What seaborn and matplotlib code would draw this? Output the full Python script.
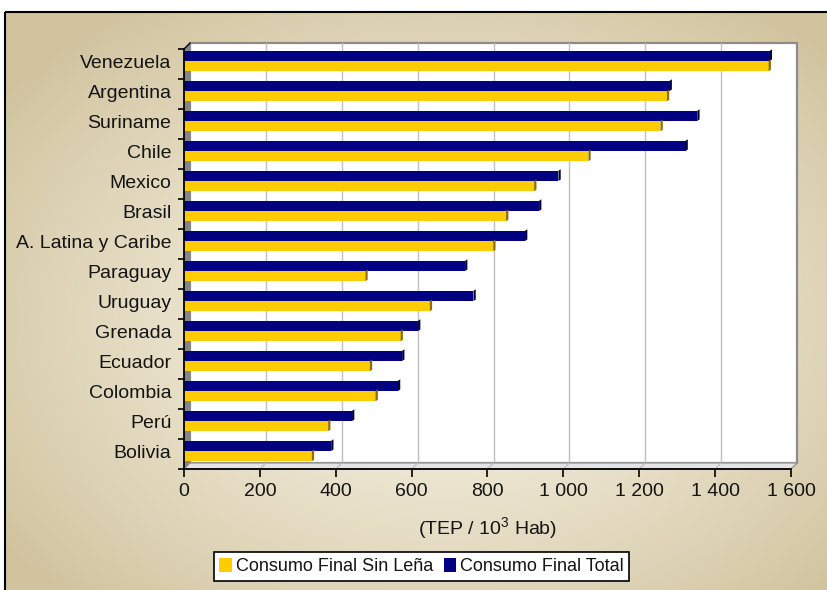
import numpy as np
import pandas as pd
import matplotlib
matplotlib.use("Agg")
import matplotlib.pyplot as plt
from matplotlib.patches import Rectangle, Polygon, Patch
import seaborn as sns

# Consumo final per cápita (TEP / 10^3 Hab)
paises = ["Venezuela", "Argentina", "Suriname", "Chile", "Mexico", "Brasil",
          "A. Latina y Caribe", "Paraguay", "Uruguay", "Grenada", "Ecuador",
          "Colombia", "Perú", "Bolivia"]
consumo_total = [1544, 1280, 1353, 1322, 987, 936, 899, 741, 763, 617, 575, 564, 443, 388]
consumo_sin_lena = [1541, 1273, 1256, 1066, 923, 849, 815, 478, 648, 571, 490, 505, 380, 337]
serie_total = "Consumo Final Total"
serie_sin_lena = "Consumo Final Sin Leña"
x_ticks = [0, 200, 400, 600, 800, 1000, 1200, 1400, 1600]
x_tick_labels = ["0", "200", "400", "600", "800", "1 000", "1 200", "1 400", "1 600"]

AZUL = "#000080"
AMARILLO = "#FFCC00"
TEXTO = "#141414"

sns.set_theme(style="white")
plt.rcParams["font.family"] = ["Liberation Sans", "DejaVu Sans"]
plt.rcParams["mathtext.fontset"] = "custom"
plt.rcParams["mathtext.rm"] = "Liberation Sans"
plt.rcParams["mathtext.it"] = "Liberation Sans:italic"

W, H = 828, 590
fig = plt.figure(figsize=(W / 100, H / 100), dpi=100)
fig.patch.set_facecolor("white")

# Fondo con degradado radial beige y marco
bg = fig.add_axes([0, 0, 1, 1], zorder=-10)
bg.set_xlim(0, W)
bg.set_ylim(H, 0)
bg.axis("off")
yy, xx = np.mgrid[0:H, 0:W]
r = np.sqrt(((xx - 440) / 540.0) ** 2 + ((yy - 320) / 390.0) ** 2)
r = np.clip(r, 0, 1) ** 1.3
c_centro = np.array([247, 243, 229]) / 255.0
c_borde = np.array([209, 195, 158]) / 255.0
img = c_centro + (c_borde - c_centro) * r[..., None]
bg.imshow(img, extent=[0, W, H, 0], aspect="auto", interpolation="bilinear")
bg.add_patch(Rectangle((0, 0), W, 12, facecolor="white", edgecolor="none"))
bg.add_patch(Rectangle((0, 0), 5, H, facecolor="white", edgecolor="none"))
bg.add_patch(Rectangle((5, 12), W + 10, H + 10, fill=False, edgecolor="black", lw=1.5))

# Área del gráfico
ax = fig.add_axes([184 / W, 1 - 469 / H, (791 - 184) / W, 420 / H])
ax.patch.set_alpha(0)

df = pd.DataFrame({
    "País": paises * 2,
    "Valor": consumo_total + consumo_sin_lena,
    "Serie": [serie_total] * len(paises) + [serie_sin_lena] * len(paises),
})

sns.barplot(data=df, y="País", x="Valor", hue="Serie",
            hue_order=[serie_total, serie_sin_lena],
            palette=[AZUL, AMARILLO], saturation=1, orient="h", width=0.68,
            linewidth=0, ax=ax, zorder=3)

n = len(paises)
dx, dy = 16, 0.2  # profundidad del efecto 3D
ax.set_xlim(0, 1600)
ax.set_ylim(n - 0.4, -0.4)

# Pared del fondo, suelo y pared izquierda
ax.add_patch(Rectangle((dx, -0.4 - dy), 1600, n, facecolor="white",
                       edgecolor="#8c8c8c", lw=1.6, clip_on=False, zorder=0))
for v in x_ticks[1:-1]:
    ax.plot([v + dx, v + dx], [-0.4 - dy, n - 0.4 - dy], color="#c0c0c0",
            lw=1, clip_on=False, zorder=1)
ax.add_patch(Polygon([(0, n - 0.4), (1600, n - 0.4), (1600 + dx, n - 0.4 - dy),
                      (dx, n - 0.4 - dy)], closed=True, facecolor="#e4e4e4",
                     edgecolor="#9a9a9a", lw=1, clip_on=False, zorder=1))
for v in x_ticks[1:-1]:
    ax.plot([v, v + dx], [n - 0.4, n - 0.4 - dy], color="#b8b8b8", lw=0.8,
            clip_on=False, zorder=1)
ax.add_patch(Polygon([(0, -0.4), (dx, -0.4 - dy), (dx, n - 0.4 - dy), (0, n - 0.4)],
                     closed=True, facecolor="#858585", edgecolor="none",
                     clip_on=False, zorder=2))

# Cara lateral de cada barra
sombras = {0: "#00003a", 1: "#8a6e00"}
for i, cont in enumerate(ax.containers):
    for p in cont:
        x1 = p.get_x() + p.get_width()
        y0 = p.get_y()
        h = p.get_height()
        ax.add_patch(Polygon([(x1, y0), (x1 + 6, y0 - 0.05), (x1 + 6, y0 + h - 0.05),
                              (x1, y0 + h)], closed=True, facecolor=sombras[i],
                             edgecolor="none", clip_on=False, zorder=3))

# Ejes
for s in ["top", "right"]:
    ax.spines[s].set_visible(False)
for s in ["left", "bottom"]:
    ax.spines[s].set_color("black")
    ax.spines[s].set_linewidth(1.3)
    ax.spines[s].set_zorder(4)
ax.plot([0, dx], [-0.4, -0.4 - dy], color="black", lw=1, clip_on=False, zorder=4)

ax.set_yticks(range(n))
ax.set_yticklabels(paises, fontsize=14, color=TEXTO)
ax.set_yticks(np.arange(n + 1) - 0.4, minor=True)
ax.tick_params(axis="y", which="major", length=0, pad=9)
ax.tick_params(axis="y", which="minor", left=True, length=4.5, width=1.2,
               color="black", direction="out")
ax.set_xticks(x_ticks)
ax.set_xticklabels(x_tick_labels, fontsize=14, color=TEXTO)
ax.tick_params(axis="x", which="major", bottom=True, length=6, width=1.2,
               color="black", direction="out", pad=4)
ax.set_ylabel("")
ax.set_xlabel(r"(TEP / 10$^3$ Hab)", fontsize=14, color=TEXTO, labelpad=11)

leg = ax.get_legend()
if leg is not None:
    leg.remove()

handles = [Patch(facecolor=AMARILLO, edgecolor="none"),
           Patch(facecolor=AZUL, edgecolor="none")]
lg = fig.legend(handles=handles, labels=[serie_sin_lena, serie_total],
                loc="center", bbox_to_anchor=((210 + 633) / 2 / W, 1 - 566.5 / H),
                ncol=2, fontsize=13, frameon=True, fancybox=False, framealpha=1,
                edgecolor="black", facecolor="white", handlelength=0.7,
                handleheight=0.8, handletextpad=0.2, columnspacing=0.6,
                borderpad=0.3, borderaxespad=0)
for t in lg.get_texts():
    t.set_color(TEXTO)
lg.get_frame().set_linewidth(1.2)

fig.savefig("out.png", dpi=100)
